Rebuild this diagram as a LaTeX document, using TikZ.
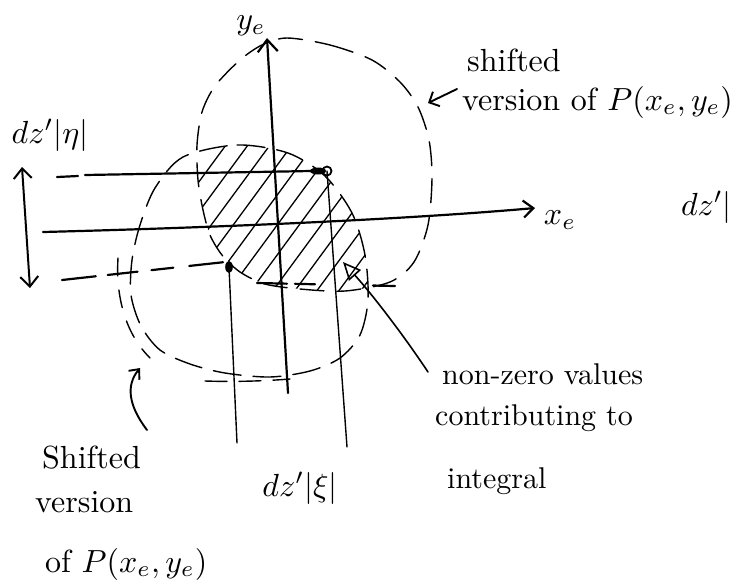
\documentclass[tikz,border=0pt]{standalone}
\usepackage{graphicx}
\usetikzlibrary{arrows.meta}
\newcommand\hwbig[1]{\scalebox{3.2}{#1}}
\newcommand\hwsmall[1]{\scalebox{3.0}{#1}}
\begin{document}
\begin{tikzpicture}[x=1pt,y=-1pt,
  ax/.style={line width=2.2pt, line cap=round},
  vline/.style={line width=1.4pt, line cap=round},
  dcirc/.style={line width=1.4pt, dash pattern=on 24pt off 13pt, line cap=round},
  hatchl/.style={line width=1.3pt, line cap=round},
  lbl/.style={inner sep=0pt},
  ldr/.style={line width=1.6pt, line cap=round}
]
\useasboundingbox (0,0) rectangle (735,582);
\clip (0,0) rectangle (735,582);

% hatching in the overlap of the two shifted distributions
\begin{scope}
\clip plot[smooth cycle] coordinates {(287,38) (330,45) (372,60) (400,82) (418,107) (429,140) (432,178) (428,225) (414,262) (390,282) (345,291) (300,289) (265,284) (240,272) (222,255) (210,235) (203,210) (198,180) (197,145) (202,112) (215,86) (240,60) (262,45)};
\clip plot[smooth cycle] coordinates {(183,157) (237,145) (288,153) (325,176) (352,213) (365,255) (368,300) (360,335) (340,358) (310,371) (270,377) (225,373) (190,364) (160,350) (141,326) (131,295) (132,260) (140,225) (155,188)};
\foreach \x in {90,112,...,460} \draw[hatchl] (\x,330) -- ++(136,-185);
\end{scope}

% upper shifted distribution
\draw[dcirc] plot[smooth cycle] coordinates {(287,38) (330,45) (372,60) (400,82) (418,107) (429,140) (432,178) (428,225) (414,262) (390,282) (345,291) (300,289) (265,284) (240,272) (222,255) (210,235) (203,210) (198,180) (197,145) (202,112) (215,86) (240,60) (262,45)};
% lower shifted distribution
\draw[dcirc, dash pattern=on 28pt off 12pt] plot[smooth cycle] coordinates {(183,157) (237,145) (288,153) (325,176) (352,213) (365,255) (368,300) (360,335) (340,358) (310,371) (270,377) (225,373) (190,364) (160,350) (141,326) (131,295) (132,260) (140,225) (155,188)};
% retraced strokes of the lower outline
\draw[dcirc, dash pattern=on 18pt off 14pt] (118,258) .. controls (116,290) and (122,330) .. (150,358);
\draw[dcirc, dash pattern=on 22pt off 12pt] (205,381) .. controls (235,382) and (265,381) .. (290,379);

% axes
\coordinate (yb) at (288,393);
\coordinate (yt) at (267,38);
\draw[ax, -{Straight Barb[length=12pt,width=20pt]}] (yb) -- (yt);
\coordinate (xl) at (43,232);
\coordinate (xr) at (535,208);
\draw[ax, -{Straight Barb[length=10pt,width=17pt]}] (xl) .. controls (200,228) and (400,220) .. (xr);
\node[lbl] (ye) at (251,26) {\hwbig{$y_e$}};
\node[lbl] (xe) at (560,220) {\hwbig{$x_e$}};

% centres of the shifted distributions
\coordinate (pu) at (327,171);
\coordinate (pl) at (229,267);
\fill ([xshift=-9pt]pu) ellipse [x radius=8, y radius=3.5];
\draw[line width=1.8pt] (pu) circle (4.5);
\fill (pl) ellipse [x radius=3.8, y radius=6];

% horizontal projections
\coordinate (hud1) at (57,177);
\coordinate (hud2) at (78,176);
\coordinate (hu) at (85,175);
\draw[ax] (hud1) -- (hud2);
\draw[ax] (hu) -- ([xshift=-16pt]pu);
\coordinate (hl) at (62,280);
\draw[ax, dash pattern=on 34pt off 12pt on 30pt off 14pt on 22pt off 16pt] (hl) -- ([xshift=-4pt,yshift=5pt]pl);
\coordinate (hlr) at (257,283);
\coordinate (hr) at (395,286);
\draw[ax, dash pattern=on 30pt off 8pt on 20pt off 58pt on 22pt off 10pt] (hlr) -- (hr);

% vertical projections
\coordinate (vlb) at (237,443);
\coordinate (vrb) at (347,447);
\draw[vline] (pl) -- (vlb);
\draw[vline] (pu) -- (vrb);

% double arrow on the left
\coordinate (dat) at (22,167);
\coordinate (dab) at (30,288);
\draw[line width=2pt, {Straight Barb[length=10pt,width=18pt]}-{Straight Barb[length=10pt,width=18pt]}] (dab) -- (dat);

% labels
\node[lbl] (eta) at (50,135) {\hwbig{$dz'|\eta|$}};
\node[lbl] (xi) at (300,488) {\hwbig{$dz'|\xi|$}};
\node[lbl, anchor=east] (dzr) at (732,207) {\hwbig{$dz'|$}};

\node[lbl, anchor=base west] (sh1) at (467,71) {\hwbig{shifted}};
\node[lbl, anchor=base west] (sh2) at (462,110) {\hwbig{version of $P(x_e,y_e)$}};
\coordinate (shs) at (457,89);
\coordinate (sha) at (428,103);
\draw[ldr, line width=1.9pt, -{Straight Barb[length=8pt,width=16pt]}] (shs) -- (sha);

\node[lbl, anchor=base west] (sl1) at (42,468) {\hwbig{Shifted}};
\node[lbl, anchor=base west] (sl2) at (35,512) {\hwbig{version}};
\node[lbl, anchor=base west] (sl3) at (45,572) {\hwbig{of $P(x_e,y_e)$}};
\coordinate (sls) at (147,430);
\coordinate (slt) at (140,368);
\draw[ldr, line width=1.9pt, -{Straight Barb[length=8pt,width=14pt]}] (sls) .. controls (128,405) and (126,385) .. (slt);

\node[lbl, anchor=base west] (nz1) at (442,384) {\hwsmall{non-zero values}};
\node[lbl, anchor=base west] (nz2) at (435,425) {\hwsmall{contributing to}};
\node[lbl, anchor=base west] (nz3) at (447,488) {\hwsmall{integral}};
\coordinate (nzs) at (428,372);
\coordinate (nzt) at (343,262);
\draw[ldr, -{Triangle[open, length=18pt, width=16pt]}] (nzs) .. controls (400,330) and (370,292) .. (nzt);
\end{tikzpicture}
\end{document}
